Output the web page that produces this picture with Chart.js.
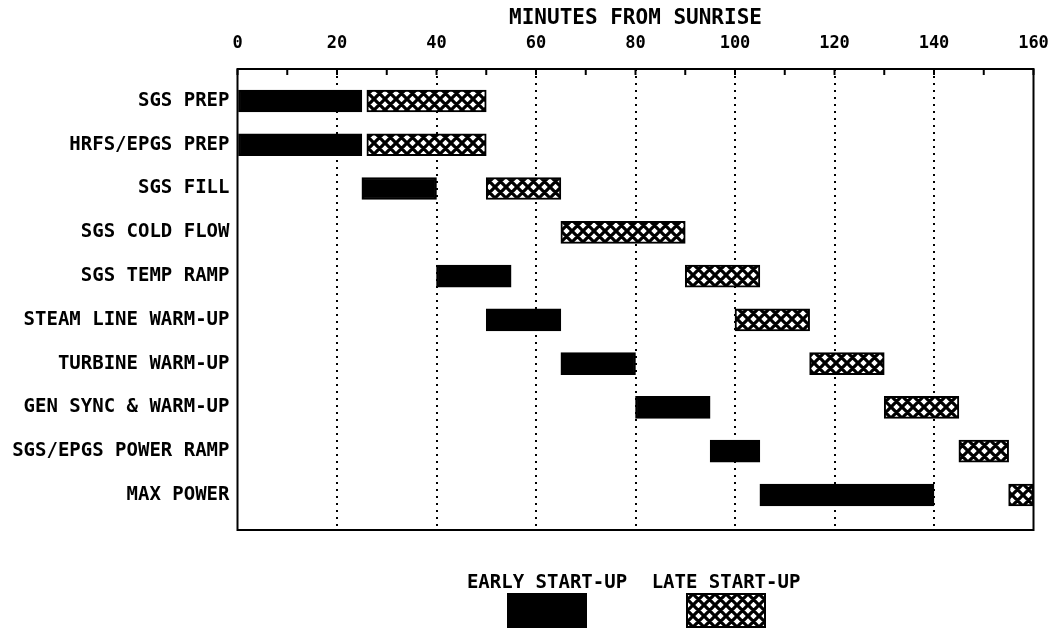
<!DOCTYPE html>
<html>
<head>
<meta charset="utf-8">
<script src="https://cdn.jsdelivr.net/npm/chart.js@4.4.1/dist/chart.umd.min.js"></script>
<style>
  html, body { margin: 0; padding: 0; background: #fff; }
  #c { display: block; }
</style>
</head>
<body>
<canvas id="c" width="1052" height="629"></canvas>
<script>
// Start-up activities, top to bottom
const tasks = [
  'SGS PREP',
  'HRFS/EPGS PREP',
  'SGS FILL',
  'SGS COLD FLOW',
  'SGS TEMP RAMP',
  'STEAM LINE WARM-UP',
  'TURBINE WARM-UP',
  'GEN SYNC & WARM-UP',
  'SGS/EPGS POWER RAMP',
  'MAX POWER'
];

// [start, end] in minutes from sunrise; null = activity not in this schedule
const earlyStartUp = [[0, 25], [0, 25], [25, 40], null, [40, 55], [50, 65], [65, 80], [80, 95], [95, 105], [105, 140]];
const lateStartUp  = [[26, 50], [26, 50], [50, 65], [65, 90], [90, 105], [100, 115], [115, 130], [130, 145], [145, 155], [155, 160]];

// Minute axis: minor step and labelled step
const minuteMin = 0;
const minuteMax = 160;
const minuteMinorStep = 10;
const minuteLabelStep = 20;

const FONT = 'DejaVu Sans Mono';
const canvas = document.getElementById('c');
const ctx2d = canvas.getContext('2d');

// Diamond cross-hatch fill
function crossHatch(ctx) {
  const s = 11;
  const c = document.createElement('canvas');
  c.width = s; c.height = s;
  const g = c.getContext('2d');
  g.fillStyle = '#fff';
  g.fillRect(0, 0, s, s);
  g.strokeStyle = '#000';
  g.lineWidth = 3.2;
  g.beginPath();
  for (const o of [-s, 0, s]) {
    g.moveTo(o, 0); g.lineTo(o + s, s);
    g.moveTo(o + s, 0); g.lineTo(o, s);
  }
  g.stroke();
  return ctx.createPattern(c, 'repeat');
}
const hatch = crossHatch(ctx2d);

const toPoints = arr => arr.map((r, i) => (r ? { x: r, y: i } : null)).filter(Boolean);

// Plot frame, inward tick marks and the legend under the plot
const decorations = {
  id: 'decorations',
  afterDraw(chart) {
    const { ctx, chartArea: a, scales: { x } } = chart;
    ctx.save();
    ctx.strokeStyle = '#000';
    ctx.lineWidth = 2;
    ctx.strokeRect(a.left, a.top, a.right - a.left, a.bottom - a.top);
    x.ticks.forEach(t => {
      const px = x.getPixelForValue(t.value);
      ctx.beginPath();
      ctx.moveTo(px, a.top);
      ctx.lineTo(px, a.top + 6);
      ctx.stroke();
    });

    // legend: label above a sample swatch
    const centers = [547, 726];
    ctx.font = 'bold 19px "' + FONT + '"';
    ctx.textAlign = 'center';
    ctx.textBaseline = 'middle';
    chart.data.datasets.forEach((ds, i) => {
      const cx = centers[i];
      ctx.fillStyle = '#000';
      ctx.fillText(ds.label, cx, 583);
      ctx.fillStyle = ds.backgroundColor;
      ctx.fillRect(cx - 39, 594, 78, 33);
      ctx.lineWidth = 2;
      ctx.strokeRect(cx - 39, 594, 78, 33);
    });
    ctx.restore();
  }
};

new Chart(canvas, {
  type: 'bar',
  data: {
    datasets: [
      {
        label: 'EARLY START-UP',
        data: toPoints(earlyStartUp),
        backgroundColor: '#000',
        borderColor: '#000',
        borderWidth: 2,
        borderSkipped: false,
        barThickness: 22,
        grouped: false
      },
      {
        label: 'LATE START-UP',
        data: toPoints(lateStartUp),
        backgroundColor: hatch,
        borderColor: '#000',
        borderWidth: 2,
        borderSkipped: false,
        barThickness: 22,
        grouped: false
      }
    ]
  },
  options: {
    indexAxis: 'y',
    responsive: false,
    animation: false,
    devicePixelRatio: 1,
    layout: { padding: { left: 0, top: 0, right: 18.5, bottom: 99 } },
    plugins: {
      legend: { display: false },
      tooltip: { enabled: false }
    },
    scales: {
      x: {
        type: 'linear',
        position: 'top',
        min: minuteMin,
        max: minuteMax,
        ticks: {
          stepSize: minuteMinorStep,
          autoSkip: false,
          maxRotation: 0,
          padding: 15,
          color: '#000',
          font: { family: FONT, size: 17, weight: 'bold' },
          callback: v => (v % minuteLabelStep === 0 ? String(v) : '')
        },
        grid: {
          drawTicks: false,
          lineWidth: 2,
          color: c => {
            const v = c.tick ? c.tick.value : -1;
            return (v % minuteLabelStep === 0 && v > minuteMin && v < minuteMax) ? '#000' : 'rgba(0,0,0,0)';
          }
        },
        border: { display: false, dash: [2, 5] },
        title: {
          display: true,
          text: 'MINUTES FROM SUNRISE',
          color: '#000',
          font: { family: FONT, size: 21, weight: 'bold' },
          padding: { top: 6, bottom: 0 }
        },
        afterFit: s => { s.height = 69; s.paddingLeft = 0; s.paddingRight = 0; }
      },
      y: {
        type: 'linear',
        reverse: true,
        offset: false,
        min: -0.73,
        max: 9.8,
        afterBuildTicks: s => { s.ticks = tasks.map((_, i) => ({ value: i })); },
        ticks: {
          autoSkip: false,
          padding: 8,
          color: '#000',
          font: { family: FONT, size: 19, weight: 'bold' },
          callback: v => tasks[v] ?? ''
        },
        grid: { display: false, drawTicks: false, offset: false },
        border: { display: false },
        afterFit: s => { s.width = 237.5; s.paddingTop = 0; s.paddingBottom = 0; }
      }
    }
  },
  plugins: [decorations]
});
</script>
</body>
</html>
